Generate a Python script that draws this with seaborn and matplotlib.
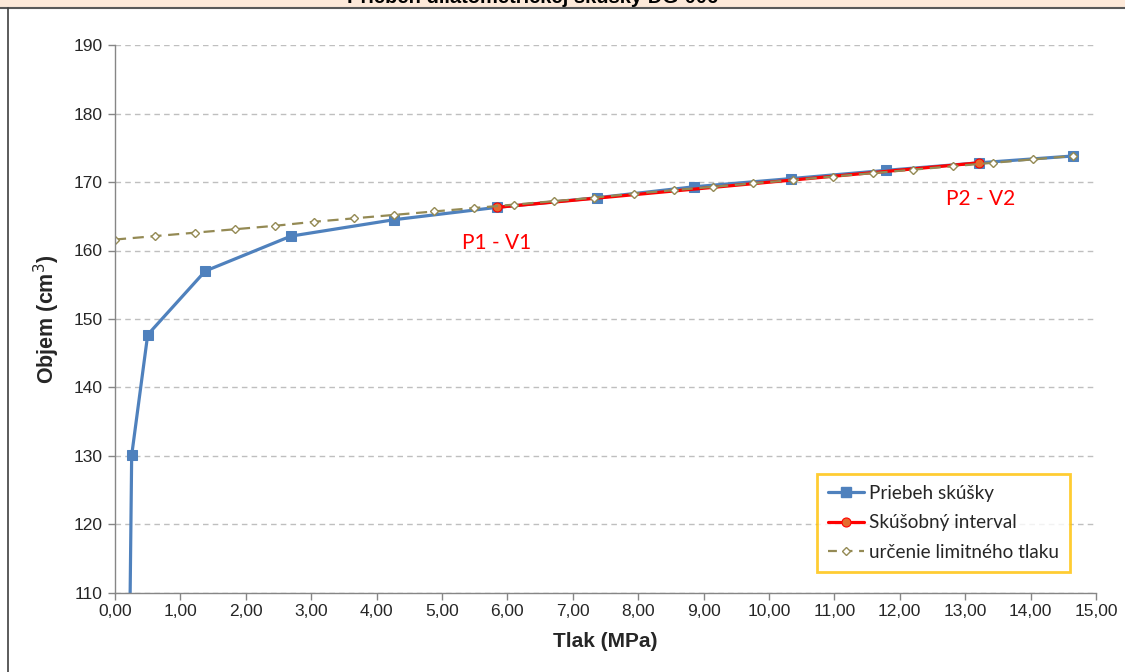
import matplotlib
matplotlib.use("Agg")
import matplotlib.pyplot as plt
from matplotlib.ticker import FuncFormatter, MultipleLocator
from matplotlib.lines import Line2D
import pandas as pd
import seaborn as sns

# Test record (pressure in MPa, volume in cm3)
test_pressure = [0.22, 0.255, 0.50, 1.38, 2.69, 4.27, 5.84, 7.37, 8.85, 10.34, 11.79, 13.21, 14.65]
test_volume = [100.0, 130.1, 147.7, 157.0, 162.1, 164.5, 166.3, 167.7, 169.3, 170.5, 171.7, 172.8, 173.8]

# Test interval end points P1-V1 and P2-V2
interval_pressure = [5.84, 13.21]
interval_volume = [166.3, 172.8]

# Line used for the limit pressure
limit_pressure = [0.00, 0.61, 1.22, 1.83, 2.44, 3.05, 3.66, 4.27, 4.88, 5.49, 6.10, 6.71,
                  7.32, 7.93, 8.54, 9.15, 9.76, 10.37, 10.98, 11.59, 12.20, 12.81, 13.42,
                  14.03, 14.65]
limit_volume = [161.6, 162.1, 162.6, 163.1, 163.6, 164.2, 164.7, 165.2, 165.7, 166.2, 166.7,
                167.2, 167.7, 168.3, 168.8, 169.3, 169.8, 170.3, 170.8, 171.3, 171.8, 172.3,
                172.8, 173.3, 173.8]

series_names = ["Priebeh skúšky", "Skúšobný interval", "určenie limitného tlaku"]
point_labels = ["P1 - V1", "P2 - V2"]
title_text = "Priebeh dilatometrickej skúšky DG-006"
x_label = "Tlak (MPa)"
y_label = "Objem (cm$^3$)"

sns.set_style("white")
plt.rcParams["font.family"] = ["Liberation Sans", "DejaVu Sans"]

fig = plt.figure(figsize=(11.25, 6.72), dpi=100)
ax = fig.add_axes([115 / 1125, 1 - 593 / 672, 981 / 1125, 548 / 672])

blue = "#4F81BD"
red = "#FF0000"
olive = "#948A54"

df_test = pd.DataFrame({"p": test_pressure, "v": test_volume})
df_int = pd.DataFrame({"p": interval_pressure, "v": interval_volume})
df_lim = pd.DataFrame({"p": limit_pressure, "v": limit_volume})

sns.lineplot(data=df_test, x="p", y="v", ax=ax, sort=False, color=blue, lw=2.3,
             marker="s", markersize=6.5, markeredgecolor=blue, markerfacecolor=blue,
             estimator=None)
sns.lineplot(data=df_int, x="p", y="v", ax=ax, sort=False, color=red, lw=2.3,
             marker="o", markersize=6.5, markeredgecolor=red, markerfacecolor="#E46C2E",
             markeredgewidth=0.8, estimator=None)
sns.lineplot(data=df_lim, x="p", y="v", ax=ax, sort=False, color=olive, lw=1.6,
             linestyle=(0, (5, 3)), marker="D", markersize=4, markeredgecolor=olive,
             markerfacecolor="white", markeredgewidth=1.0, estimator=None)

ax.set_xlim(0, 15)
ax.set_ylim(110, 190)
ax.xaxis.set_major_locator(MultipleLocator(1))
ax.yaxis.set_major_locator(MultipleLocator(10))
ax.xaxis.set_major_formatter(FuncFormatter(lambda v, _: f"{v:.2f}".replace(".", ",")))
ax.yaxis.set_major_formatter(FuncFormatter(lambda v, _: f"{v:.0f}"))
ax.tick_params(axis="both", labelsize=12.5, length=5, width=1, color="#868686",
               direction="out", pad=4)
ax.tick_params(axis="x", bottom=True, pad=3)
ax.tick_params(axis="y", left=True, pad=4)

ax.grid(axis="y", color="#BFBFBF", linestyle=(0, (4, 3)), lw=1)
ax.grid(axis="x", visible=False)
for side in ["top", "right"]:
    ax.spines[side].set_visible(False)
for side in ["left", "bottom"]:
    ax.spines[side].set_color("#868686")
    ax.spines[side].set_linewidth(1)

ax.set_xlabel(x_label, fontsize=15, fontweight="bold", labelpad=9)
ax.set_ylabel(y_label, fontsize=15.5, fontweight="bold", labelpad=8)

# Labels for the interval end points
ax.text(5.84, 161.1, point_labels[0], color=red, fontsize=15, family="Lato",
        ha="center", va="center")
ax.text(13.23, 167.5, point_labels[1], color=red, fontsize=15, family="Lato",
        ha="center", va="center")

handles = [
    Line2D([], [], color=blue, lw=2.3, marker="s", markersize=6.5, markerfacecolor=blue),
    Line2D([], [], color=red, lw=2.3, marker="o", markersize=6.5, markeredgecolor=red,
           markerfacecolor="#E46C2E", markeredgewidth=0.8),
    Line2D([], [], color=olive, lw=1.6, linestyle=(0, (4, 3)), marker="D", markersize=4,
           markeredgecolor=olive, markerfacecolor="white"),
]
leg = ax.legend(handles, series_names, loc="lower right", bbox_to_anchor=(0.9735, 0.038),
                frameon=True, fancybox=False, prop={"family": "Lato", "size": 13.6},
                handlelength=1.9, handletextpad=0.25, borderpad=0.6, labelspacing=0.66,
                borderaxespad=0)
leg.get_frame().set_edgecolor("#FFC000")
leg.get_frame().set_linewidth(2)

# Header band with the chart title and the frame around the chart area
fig.patches.append(plt.Rectangle((0, 1 - 7 / 672), 1, 7 / 672, transform=fig.transFigure,
                                 facecolor="#FDE9D9", edgecolor="none"))
fig.lines.append(Line2D([0, 1], [1 - 7.5 / 672] * 2, transform=fig.transFigure,
                        color="#595959", lw=1.5))
fig.lines.append(Line2D([7.5 / 1125] * 2, [0, 1 - 7.5 / 672], transform=fig.transFigure,
                        color="#404040", lw=1.2))
fig.text(533 / 1125, 1 - 3 / 672, title_text, ha="center", va="baseline",
         fontsize=14.5, fontweight="bold", color="black")

fig.savefig("out.png", dpi=100)
